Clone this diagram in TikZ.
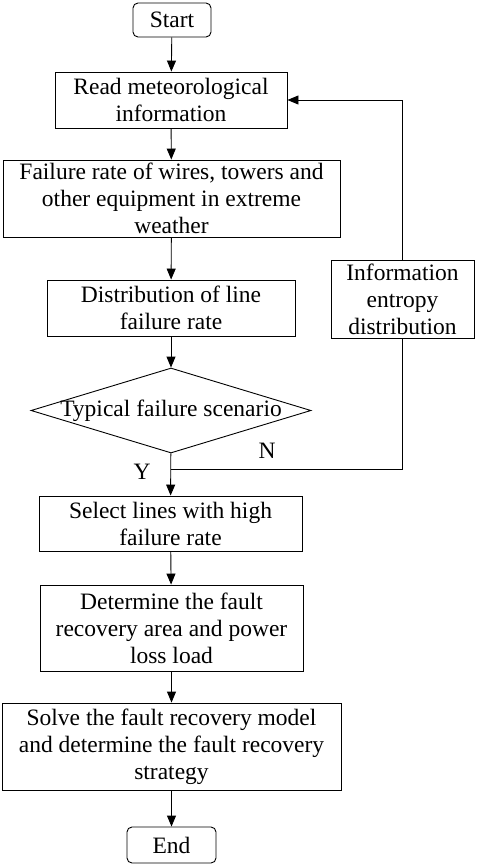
\documentclass[tikz,border=0pt]{standalone}
\usepackage{fontspec}
\setmainfont{Liberation Serif}
\usepackage{tikz}
\usetikzlibrary{positioning,shapes.geometric,arrows.meta}

\begin{document}
\begin{tikzpicture}[x=1pt,y=1pt,line width=0.9pt,
  font=\fontsize{23.5}{27}\selectfont,
  proc/.style={draw,rectangle,align=center,inner sep=0pt},
  term/.style={draw,rectangle,rounded corners=5pt,inner sep=0pt},
  decision/.style={draw,diamond,inner sep=0pt},
  flow/.style={-{Triangle[length=11pt,width=9pt]}}]
\useasboundingbox (0,0) rectangle (477,-865);
\node[term,minimum width=78,minimum height=34] (start) at (172,-20) {Start};
\node[proc,minimum width=232,minimum height=56] (read) at (171,-100) {Read meteorological\\information};
\node[proc,minimum width=337,minimum height=77] (fail) at (171.5,-198.5) {Failure rate of wires, towers and\\other equipment in extreme\\weather};
\node[proc,minimum width=248,minimum height=56] (dist) at (171,-308) {Distribution of line\\failure rate};
\node[proc,minimum width=143,minimum height=78] (info) at (402.5,-299) {Information\\entropy\\distribution};
\node[decision,minimum width=280,minimum height=85] (scen) at (171,-410.5) {\makebox[0pt]{Typical failure scenario}};
\node[proc,minimum width=263,minimum height=55] (sel) at (170.5,-523.5) {Select lines with high\\failure rate};
\node[proc,minimum width=263,minimum height=86] (det) at (171.5,-628) {Determine the fault\\recovery area and power\\loss load};
\node[proc,minimum width=339,minimum height=87] (solve) at (171.5,-746.5) {Solve the fault recovery model\\and determine the fault recovery\\strategy};
\node[term,minimum width=89,minimum height=36] (end) at (171.5,-845) {End};
\coordinate (join) at (171,-469);
\node (no) at (267,-451) {N};
\node (yes) at (142,-472) {Y};
\draw[flow] (start) -- (read);
\draw[flow] (read) -- (fail);
\draw[flow] (fail) -- (dist);
\draw[flow] (dist) -- (scen);
\draw[flow] (scen) -- (sel);
\draw[flow] (sel) -- (det);
\draw[flow] (det) -- (solve);
\draw[flow] (solve) -- (end);
\draw (info.south) |- (join);
\draw[flow] (info.north) |- (read.east);
\end{tikzpicture}
\end{document}
